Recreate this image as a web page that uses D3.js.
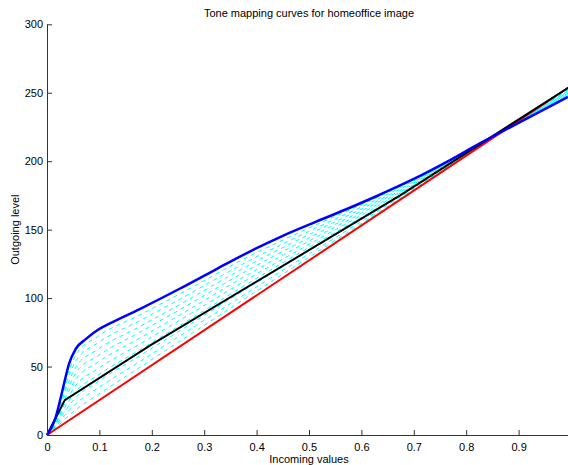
<!DOCTYPE html>
<html>
<head>
<meta charset="utf-8">
<script src="https://cdn.jsdelivr.net/npm/d3@7"></script>
<style>
  body { margin: 0; background: #fff; }
  text { font-family: "Liberation Sans", Arial, sans-serif; }
</style>
</head>
<body>
<svg id="chart" width="568" height="465"></svg>
<script>
// sample positions (incoming values) shared by the cyan curves
var xs = [0, 0.017, 0.034, 0.055, 0.096, 0.177, 0.254, 0.387, 0.515, 0.635, 0.763, 0.858, 0.994];

// upper blue curve
var blueX = [0, 0.008, 0.017, 0.026, 0.034, 0.042, 0.055, 0.074, 0.096, 0.12, 0.177, 0.254, 0.32, 0.387, 0.45, 0.515, 0.578, 0.635, 0.7, 0.763, 0.826, 0.858, 0.92, 0.994];
var blueY = [0, 5, 13.5, 27, 40, 52, 63, 70, 76.5, 81.5, 92, 107, 120.5, 134, 145.5, 156, 166, 175.5, 187, 199.5, 213, 219.5, 232, 247];

var redX = [0, 1];
var redY = [0, 255];

var blackX = [0, 0.034, 0.197, 0.674, 1];
var blackY = [0, 25.5, 65.5, 175, 255];

// dashed cyan curves, values at xs
var cyan = [
  [0, 5.1, 11.5, 18.5, 29.2, 49.4, 68.6, 101.9, 133.5, 163.1, 195.0, 218.9, 252.9],
  [0, 6.0, 14.4, 22.9, 34.0, 53.6, 72.5, 105.1, 135.8, 164.4, 195.5, 218.9, 252.3],
  [0, 6.8, 17.2, 27.4, 38.7, 57.9, 76.3, 108.3, 138.0, 165.6, 195.9, 219.0, 251.7],
  [0, 7.6, 20.1, 31.8, 43.4, 62.2, 80.1, 111.5, 140.3, 166.8, 196.4, 219.1, 251.1],
  [0, 8.5, 22.9, 36.3, 48.1, 66.4, 84.0, 114.7, 142.5, 168.1, 196.8, 219.1, 250.5],
  [0, 9.3, 25.8, 40.7, 52.9, 70.7, 87.8, 118.0, 144.8, 169.3, 197.3, 219.2, 250.0],
  [0, 10.2, 28.6, 45.2, 57.6, 75.0, 91.7, 121.2, 147.0, 170.6, 197.7, 219.2, 249.4],
  [0, 11.0, 31.5, 49.6, 62.3, 79.2, 95.5, 124.4, 149.3, 171.8, 198.2, 219.3, 248.8],
  [0, 11.8, 34.3, 54.1, 67.0, 83.5, 99.3, 127.6, 151.5, 173.0, 198.6, 219.4, 248.2],
  [0, 12.7, 37.2, 58.5, 71.8, 87.7, 103.2, 130.8, 153.8, 174.3, 199.1, 219.4, 247.6]
];

var xTicks = [0, 0.1, 0.2, 0.3, 0.4, 0.5, 0.6, 0.7, 0.8, 0.9];
var yTicks = [0, 50, 100, 150, 200, 250, 300];

var svg = d3.select("#chart");
var x = d3.scaleLinear().domain([0, 1]).range([47, 571]);
var y = d3.scaleLinear().domain([0, 300]).range([435, 24.3]);

function zip(a, b) { return a.map(function(v, i) { return [v, b[i]]; }); }

var smooth = d3.line()
    .x(function(d) { return x(d[0]); })
    .y(function(d) { return y(d[1]); })
    .curve(d3.curveMonotoneX);
var straight = d3.line()
    .x(function(d) { return x(d[0]); })
    .y(function(d) { return y(d[1]); });

var plot = svg.append("g");

plot.selectAll(".cyan")
  .data(cyan)
  .enter().append("path")
    .attr("class", "cyan")
    .attr("d", function(d) { return smooth(zip(xs, d)); })
    .attr("fill", "none")
    .attr("stroke", "#00ffff")
    .attr("stroke-width", 1)
    .attr("stroke-dasharray", "4,4");

plot.append("path")
    .attr("d", straight(zip(redX, redY)))
    .attr("fill", "none").attr("stroke", "#ff0000").attr("stroke-width", 2);

plot.append("path")
    .attr("d", straight(zip(blackX, blackY)))
    .attr("fill", "none").attr("stroke", "#000").attr("stroke-width", 2);

plot.append("path")
    .attr("d", smooth(zip(blueX, blueY)))
    .attr("fill", "none").attr("stroke", "#0000ff").attr("stroke-width", 2.5);

// axes, matlab style: ticks pointing inward
var xAxis = svg.append("g")
    .attr("transform", "translate(0," + y(0) + ")")
    .call(d3.axisBottom(x).tickValues(xTicks).tickSize(-5).tickPadding(8)
      .tickFormat(function(d) { return d3.format("")(d); }));
var yAxis = svg.append("g")
    .attr("transform", "translate(" + x(0) + ",0)")
    .call(d3.axisLeft(y).tickValues(yTicks).tickSize(-5).tickPadding(4));

[xAxis, yAxis].forEach(function(a) {
  a.selectAll(".tick line").attr("stroke", "#333");
  a.selectAll("text").attr("fill", "#000").style("font-size", "11px");
});
xAxis.select(".domain").attr("stroke", "#333").attr("d", "M" + x(0) + ",0.5H" + x(1));
yAxis.select(".domain").attr("stroke", "#333").attr("d", "M0.5," + y(0) + "V" + y(300));

svg.append("text")
    .attr("x", 309).attr("y", 17)
    .attr("text-anchor", "middle")
    .style("font-size", "11px")
    .text("Tone mapping curves for homeoffice image");

svg.append("text")
    .attr("x", 309).attr("y", 463)
    .attr("text-anchor", "middle")
    .style("font-size", "11px")
    .text("Incoming values");

svg.append("text")
    .attr("transform", "translate(19," + ((y(0) + y(300)) / 2) + ") rotate(-90)")
    .attr("text-anchor", "middle")
    .style("font-size", "11px")
    .text("Outgoing level");
</script>
</body>
</html>
